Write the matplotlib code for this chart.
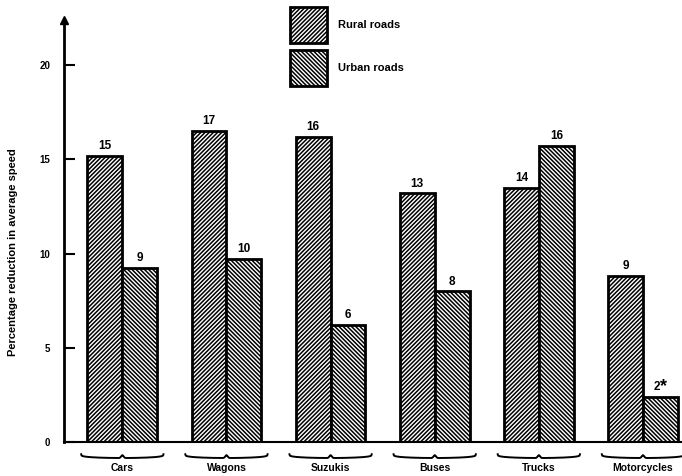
import matplotlib
matplotlib.use("Agg")
import matplotlib.pyplot as plt
import numpy as np
from matplotlib.patches import Patch

categories = ["Cars", "Wagons", "Suzukis", "Buses", "Trucks", "Motorcycles"]
rural = [15.2, 16.5, 16.2, 13.2, 13.5, 8.8]
urban = [9.25, 9.7, 6.2, 8.0, 15.7, 2.4]
rural_labels = ["15", "17", "16", "13", "14", "9"]
urban_labels = ["9", "10", "6", "8", "16", "2*"]
yticks = [0, 5, 10, 15, 20]

plt.rcParams['font.family'] = ['Liberation Sans', 'DejaVu Sans']
plt.rcParams['font.weight'] = 'bold'
plt.rcParams['hatch.linewidth'] = 1.1

HR = '/' * 8
HU = '\\' * 8

fig = plt.figure(figsize=(6.82, 4.76), dpi=100)
ax = fig.add_axes([64/682, 34/476, 618/682, 422/476])

x = np.arange(len(categories))
w = 0.335
ax.bar(x - w/2, rural, w, facecolor='white', edgecolor='black', hatch=HR, linewidth=2)
ax.bar(x + w/2, urban, w, facecolor='white', edgecolor='black', hatch=HU, linewidth=2)

for xi, v, s in zip(x, rural, rural_labels):
    ax.text(xi - w/2, v + 0.2, s, ha='center', va='bottom', fontsize=8.5, fontweight='bold')
for xi, v, s in zip(x, urban, urban_labels):
    if s.endswith('*'):
        ax.text(xi + w/2, v + 0.2, s[:-1], ha='right', va='bottom', fontsize=8.5, fontweight='bold')
        ax.text(xi + w/2, v + 0.1, '*', ha='left', va='bottom', fontsize=13, fontweight='bold')
    else:
        ax.text(xi + w/2, v + 0.2, s, ha='center', va='bottom', fontsize=8.5, fontweight='bold')

ax.set_xlim(-0.56, 5.375)
ax.set_ylim(0, 22.4)
ax.set_yticks(yticks)
ax.set_yticklabels([str(t) for t in yticks], fontsize=7, fontweight='bold')
ax.tick_params(axis='y', direction='in', length=8, width=1.5, pad=10)
ax.set_xticks(x)
ax.set_xticklabels(categories, fontsize=7.5, fontweight='bold')
ax.tick_params(axis='x', length=0, pad=15)

for sp in ['top', 'right']:
    ax.spines[sp].set_visible(False)
ax.spines['left'].set_linewidth(2)
ax.spines['bottom'].set_linewidth(1.5)

# arrow on y axis
ax.plot([0], [1], marker='^', color='black', markersize=6, transform=ax.transAxes, clip_on=False)

# wavy braces under groups
t = np.linspace(0, 1, 200)
for xi in x:
    xs = xi - w - 0.06 + t * (2 * w + 0.12)
    ys = -0.65 - 0.2 * (np.abs(np.sin(np.pi * t)) ** 0.25) + 0.15 * np.exp(-((t - 0.5) / 0.02) ** 2)
    ax.plot(xs, ys, color='black', lw=1.4, clip_on=False)

ax.set_ylabel("Percentage reduction in average speed", fontsize=8, fontweight='bold', labelpad=22)
ax.yaxis.set_label_coords(-46/618, 0.45)

handles = [Patch(facecolor='white', edgecolor='black', hatch=HR, linewidth=2),
           Patch(facecolor='white', edgecolor='black', hatch=HU, linewidth=2)]
fig.legend(handles, ["Rural roads", "Urban roads"], loc='upper left', bbox_to_anchor=(283/682, 1.0),
           frameon=False, fontsize=8, handlelength=3.3, handleheight=4.6, labelspacing=0.6,
           handletextpad=1.0, borderaxespad=0.25)

fig.savefig("out.png", dpi=100)
